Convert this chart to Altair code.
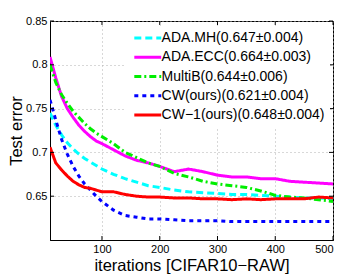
import altair as alt
import pandas as pd

iters = [10, 20, 30, 40, 50, 60, 70, 80, 90, 100, 120, 140, 160, 180, 200,
         225, 250, 275, 300, 325, 350, 375, 400, 425, 450, 475, 500]

ada_mh = [0.745, 0.731, 0.720, 0.711, 0.704, 0.698, 0.693, 0.689, 0.685, 0.681,
          0.675, 0.670, 0.666, 0.662, 0.660, 0.657, 0.655, 0.654, 0.653, 0.652,
          0.652, 0.651, 0.650, 0.649, 0.648, 0.648, 0.647]
ada_ecc = [0.809, 0.785, 0.764, 0.750, 0.740, 0.731, 0.724, 0.718, 0.713, 0.710,
           0.703, 0.696, 0.691, 0.688, 0.684, 0.678, 0.681, 0.678, 0.674, 0.672,
           0.672, 0.670, 0.670, 0.667, 0.666, 0.665, 0.664]
multib = [0.800, 0.780, 0.766, 0.756, 0.747, 0.740, 0.733, 0.727, 0.722, 0.718,
          0.710, 0.700, 0.694, 0.688, 0.684, 0.676, 0.672, 0.667, 0.664, 0.662,
          0.660, 0.656, 0.651, 0.649, 0.648, 0.646, 0.644]
cw = [0.760, 0.737, 0.715, 0.698, 0.684, 0.673, 0.664, 0.657, 0.650, 0.644,
      0.634, 0.628, 0.626, 0.624, 0.624, 0.623, 0.622, 0.622, 0.622, 0.621,
      0.621, 0.621, 0.621, 0.621, 0.621, 0.621, 0.621]
cw1 = [0.706, 0.688, 0.680, 0.673, 0.667, 0.663, 0.660, 0.659, 0.657, 0.655,
       0.655, 0.652, 0.650, 0.649, 0.649, 0.648, 0.648, 0.647, 0.647, 0.646,
       0.647, 0.646, 0.647, 0.647, 0.647, 0.649, 0.648]

series_names = ["ADA.MH(0.647±0.004)", "ADA.ECC(0.664±0.003)", "MultiB(0.644±0.006)",
                "CW(ours)(0.621±0.004)", "CW−1(ours)(0.648±0.004)"]
series_values = [ada_mh, ada_ecc, multib, cw, cw1]
colors = ["#00ffff", "#ff00ff", "#00ee00", "#0000ff", "#ff0000"]
dashes = [[7, 4], [1, 0], [7, 3, 2, 3], [4, 4], [1, 0]]

x_ticks = [100, 200, 300, 400, 500]
y_ticks = [0.65, 0.7, 0.75, 0.8, 0.85]

rows = []
for name, vals in zip(series_names, series_values):
    for it, v in zip(iters, vals):
        rows.append({"iter": it, "err": v, "series": name})
df = pd.DataFrame(rows)

W, H = 283, 219

xscale = alt.Scale(domain=[10, 500], nice=False, zero=False)
yscale = alt.Scale(domain=[0.6, 0.85], nice=False, zero=False)

lines = alt.Chart(df).mark_line(strokeWidth=3, strokeCap="butt", clip=True).encode(
    x=alt.X("iter:Q", scale=xscale,
            axis=alt.Axis(values=x_ticks, title="iterations [CIFAR10−RAW]",
                          grid=True, gridDash=[1, 3], gridColor="#b0b0b0",
                          ticks=False, labelPadding=3, labelFontSize=11,
                          titleFontSize=16.5, titleFontWeight="normal",
                          titleX=W / 2, titleY=30, titleBaseline="alphabetic",
                          titleAlign="center",
                          domainColor="black",
                          labelColor="black", titleColor="black")),
    y=alt.Y("err:Q", scale=yscale,
            axis=alt.Axis(values=y_ticks, format=".2~f", title="Test error",
                          grid=True, gridDash=[1, 3], gridColor="#b0b0b0",
                          ticks=False, labelPadding=3, labelFontSize=11,
                          titleFontSize=16.5, titleFontWeight="normal",
                          titleX=-29, titleY=H / 2, titleAngle=270,
                          titleAlign="center", titleBaseline="alphabetic",
                          domainColor="black",
                          labelColor="black", titleColor="black")),
    color=alt.Color("series:N", sort=series_names,
                    scale=alt.Scale(domain=series_names, range=colors),
                    legend=alt.Legend(title=None, orient="none", legendX=75, legendY=5,
                                      symbolType="M-1,0H9", symbolSize=29,
                                      symbolStrokeWidth=3, labelFontSize=14,
                                      labelColor="black", rowPadding=5.25,
                                      fillColor="white", padding=5,
                                      labelOffset=17.6,
                                      labelLimit=300, symbolOffset=0)),
    strokeDash=alt.StrokeDash("series:N", sort=series_names,
                              scale=alt.Scale(domain=series_names, range=dashes)),
    order=alt.Order("series:N"),
)

xt = pd.DataFrame({"v": x_ticks})
yt = pd.DataFrame({"v": y_ticks})
xticks_b = alt.Chart(xt).mark_rule(color="black").encode(
    x=alt.X("v:Q", scale=xscale), y=alt.value(H), y2=alt.value(H - 4))
xticks_t = alt.Chart(xt).mark_rule(color="black").encode(
    x=alt.X("v:Q", scale=xscale), y=alt.value(0), y2=alt.value(4))
yticks_l = alt.Chart(yt).mark_rule(color="black").encode(
    y=alt.Y("v:Q", scale=yscale), x=alt.value(0), x2=alt.value(4))
yticks_r = alt.Chart(yt).mark_rule(color="black").encode(
    y=alt.Y("v:Q", scale=yscale), x=alt.value(W), x2=alt.value(W - 4))

chart = alt.layer(lines, xticks_b, xticks_t, yticks_l, yticks_r).properties(
    width=W, height=H,
    autosize=alt.AutoSizeParams(type="none"),
    padding={"left": 42, "top": 13, "right": 8, "bottom": 35},
).configure(font="Liberation Sans").configure_view(
    stroke="black", strokeWidth=1
)

chart.save("out.html", embed_options={"renderer": "svg", "actions": False})
